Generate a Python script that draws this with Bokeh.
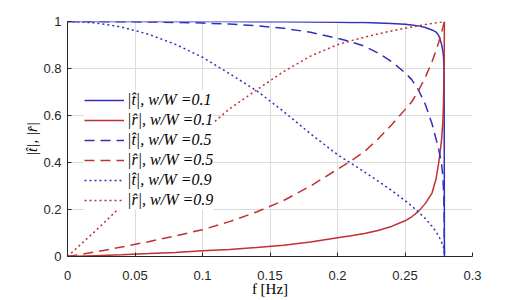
from bokeh.plotting import figure
from bokeh.models import FixedTicker, Legend, LegendItem, Range1d
from bokeh.embed import file_html
from bokeh.resources import INLINE

# frequency grid [Hz]
freq = [0, 0.02, 0.04, 0.06, 0.08, 0.10, 0.12, 0.14, 0.16, 0.18, 0.20, 0.21, 0.22,
        0.23, 0.24, 0.25, 0.255, 0.26, 0.265, 0.27, 0.273, 0.275, 0.277, 0.278,
        0.2785, 0.279, 0.2792]

t_01 = [1, 1, 1, 1, 1, 0.9997, 0.9996, 0.9993, 0.9988, 0.9981, 0.9969, 0.9962, 0.9953,
        0.9939, 0.9918, 0.9884, 0.9856, 0.9814, 0.9744, 0.964, 0.955, 0.94, 0.905, 0.875,
        0.85, 0.79, 0]
r_01 = [0, 0.0037, 0.0078, 0.0124, 0.0173, 0.024, 0.030, 0.038, 0.048, 0.062, 0.080, 0.088,
        0.098, 0.111, 0.128, 0.152, 0.169, 0.192, 0.225, 0.27, 0.33, 0.40, 0.49, 0.57,
        0.65, 0.82, 1.0]
t_05 = [1, 0.9998, 0.9992, 0.998, 0.9961, 0.9935, 0.9889, 0.9818, 0.9713, 0.9541, 0.9285,
        0.9136, 0.8948, 0.866, 0.83, 0.782, 0.7526, 0.7082, 0.6478, 0.565, 0.50, 0.455,
        0.40, 0.345, 0.29, 0.19, 0]
r_05 = [0, 0.019, 0.040, 0.0629, 0.0877, 0.1142, 0.1483, 0.1895, 0.238, 0.2996, 0.3714,
        0.4066, 0.4465, 0.50, 0.56, 0.625, 0.6585, 0.706, 0.7618, 0.8288, 0.8764, 0.9118,
        0.9514, 0.9727, 0.9838, 0.9953, 1.0]
t_09 = [1, 0.9945, 0.9766, 0.9457, 0.9028, 0.848, 0.778, 0.7058, 0.6174, 0.5223, 0.4333,
        0.3967, 0.3596, 0.3212, 0.2813, 0.2382, 0.2146, 0.1894, 0.1614, 0.1288, 0.1051,
        0.0863, 0.0621, 0.05, 0.04, 0.025, 0]
r_09 = [0, 0.105, 0.215, 0.325, 0.43, 0.53, 0.628, 0.7084, 0.7866, 0.8528, 0.9013, 0.918,
        0.9331, 0.947, 0.9596, 0.9713, 0.9766, 0.9819, 0.9869, 0.9917, 0.9944, 0.9963,
        0.9981, 0.9989, 0.9994, 0.9998, 1.0]

x_ticks = [0, 0.05, 0.1, 0.15, 0.2, 0.25, 0.3]
x_labels = ["0", "0.05", "0.1", "0.15", "0.2", "0.25", "0.3"]
y_ticks = [0, 0.2, 0.4, 0.6, 0.8, 1]
y_labels = ["0", "0.2", "0.4", "0.6", "0.8", "1"]

series = [
    ("|t\u0302|, w/W =0.1", t_01, "blue", "solid"),
    ("|r\u0302|, w/W =0.1", r_01, "red", "solid"),
    ("|t\u0302|, w/W =0.5", t_05, "blue", "dashed"),
    ("|r\u0302|, w/W =0.5", r_05, "red", "dashed"),
    ("|t\u0302|, w/W =0.9", t_09, "blue", "dotted"),
    ("|r\u0302|, w/W =0.9", r_09, "red", "dotted"),
]

BLUE = "#3030C0"
RED = "#C03030"
DASH = {"solid": "solid", "dashed": "10 6", "dotted": "2 3"}

p = figure(frame_width=405, frame_height=235, output_backend="svg", toolbar_location=None,
           x_range=Range1d(0, 0.3), y_range=Range1d(0, 1),
           min_border_left=67, min_border_right=35, min_border_top=21, min_border_bottom=10)
p.outline_line_color = None
p.background_fill_color = "white"
p.border_fill_color = "white"

items = []
for label, vals, col, style in series:
    r = p.line(freq, vals, line_color=BLUE if col == "blue" else RED, line_width=1.5,
               line_dash=DASH[style])
    items.append(LegendItem(label=label, renderers=[r]))

legend = Legend(items=items, location=(17, 46), padding=2, margin=0, spacing=0,
                glyph_width=40, glyph_height=20, label_height=20, label_standoff=3,
                label_text_font="Liberation Serif", label_text_font_style="italic",
                label_text_font_size="16px", label_text_color="#000000",
                background_fill_color="white", background_fill_alpha=1.0,
                border_line_color=None)
p.add_layout(legend)

for ax, ticks, labels in ((p.xaxis[0], x_ticks, x_labels), (p.yaxis[0], y_ticks, y_labels)):
    ax.ticker = FixedTicker(ticks=ticks)
    ax.major_label_overrides = {t: l for t, l in zip(ticks, labels)}
    ax.major_tick_in = 4
    ax.major_tick_out = 0
    ax.minor_tick_line_color = None
    ax.axis_line_color = "#262626"
    ax.major_tick_line_color = "#262626"
    ax.major_label_text_font = "Liberation Sans"
    ax.major_label_text_font_size = "13px"
    ax.major_label_text_color = "#262626"
    ax.axis_label_text_font = "Liberation Serif"
    ax.axis_label_text_font_size = "15px"
    ax.axis_label_text_color = "#000000"

p.xaxis[0].axis_label = "f [Hz]"
p.xaxis[0].axis_label_text_font_style = "normal"
p.xaxis[0].major_label_standoff = 14
p.xaxis[0].axis_label_standoff = -2
p.yaxis[0].axis_label = "|t\u0302|, |r\u0302|"
p.yaxis[0].axis_label_text_font_style = "italic"
p.yaxis[0].major_label_standoff = 6
p.yaxis[0].axis_label_standoff = 0

p.grid.grid_line_color = "#DCDCDC"
p.grid.grid_line_width = 1
p.xgrid.ticker = FixedTicker(ticks=x_ticks)
p.ygrid.ticker = FixedTicker(ticks=y_ticks)

open("out.html", "w").write(file_html(p, INLINE))
